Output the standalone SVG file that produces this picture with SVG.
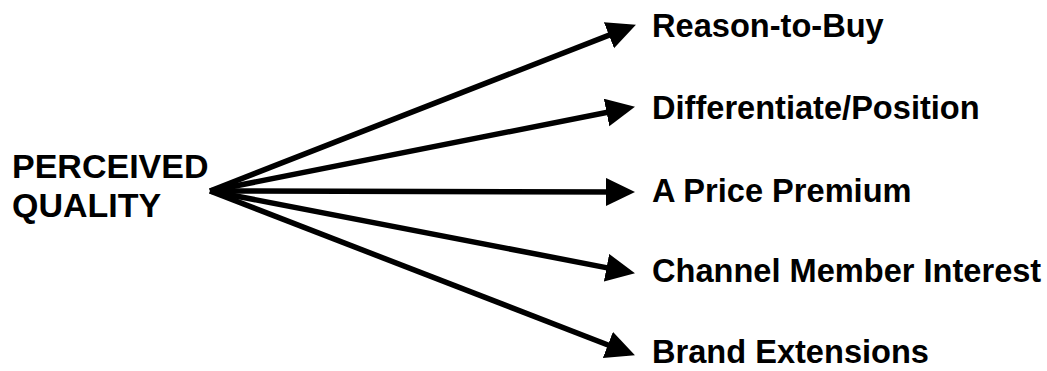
<svg xmlns="http://www.w3.org/2000/svg" width="1047" height="371" viewBox="0 0 1047 371">
<style>
.lbl{font-family:"Liberation Sans",Arial,sans-serif;font-weight:bold;font-size:32.6px;fill:#000}
.src{font-family:"Liberation Sans",Arial,sans-serif;font-weight:bold;font-size:34px;fill:#000}
.edge{stroke:#000;stroke-width:5.5;fill:none}
</style>
<defs>
<marker id="ah" markerUnits="userSpaceOnUse" markerWidth="32" markerHeight="30" refX="14" refY="14" orient="auto">
<path d="M0,0 L29,14 L0,28 z" fill="#000"/>
</marker>
</defs>
<rect width="1047" height="371" fill="#fff"/>
<g id="connectors">
<line class="edge" x1="210" y1="191" x2="621.96" y2="30.09" marker-end="url(#ah)"/>
<line class="edge" x1="210" y1="191" x2="620.27" y2="109.72" marker-end="url(#ah)"/>
<line class="edge" x1="210" y1="191" x2="620" y2="191.97" marker-end="url(#ah)"/>
<line class="edge" x1="210" y1="191" x2="620.25" y2="270.34" marker-end="url(#ah)"/>
<line class="edge" x1="210" y1="191" x2="620.94" y2="349.95" marker-end="url(#ah)"/>
</g>
<g id="perceived-quality">
<text class="src" x="12" y="178">PERCEIVED</text>
<text class="src" x="12" y="217">QUALITY</text>
</g>
<g id="reason-to-buy"><text class="lbl" x="652" y="37">Reason-to-Buy</text></g>
<g id="differentiate-position"><text class="lbl" x="652" y="119">Differentiate/Position</text></g>
<g id="price-premium"><text class="lbl" x="652" y="202">A Price Premium</text></g>
<g id="channel-member-interest"><text class="lbl" x="652" y="282">Channel Member Interest</text></g>
<g id="brand-extensions"><text class="lbl" x="652" y="363">Brand Extensions</text></g>
</svg>
